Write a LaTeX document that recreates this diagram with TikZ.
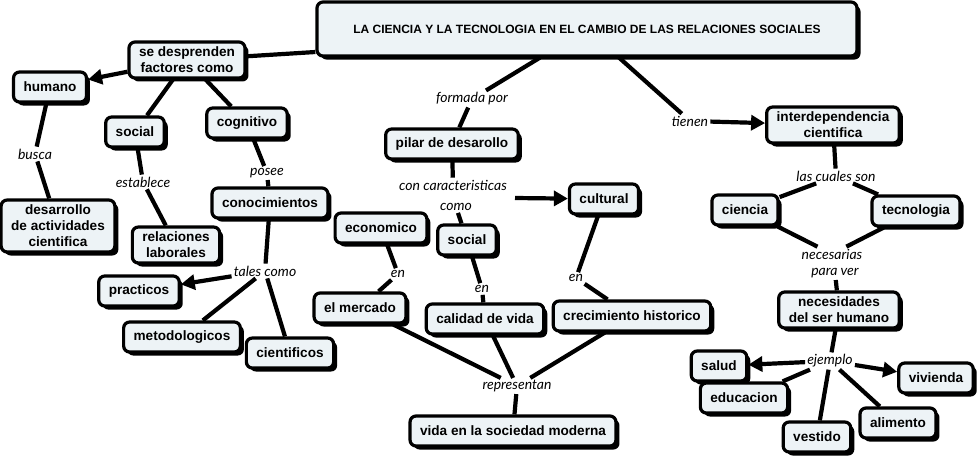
\documentclass[tikz,border=0pt]{standalone}
\usepackage{fontspec}
\setmainfont{Liberation Sans}[BoldFont={Liberation Sans Bold}]
\newfontfamily\boldfont{Liberation Sans Bold}
\newfontfamily\linkfont{Lato Italic}
\usetikzlibrary{shadows,arrows.meta}
\definecolor{boxfill}{HTML}{EDF3F6}
\tikzset{
  concept/.style={draw=black, line width=3.2pt, rounded corners=6pt, fill=boxfill,
    font=\boldfont\fontsize{13.6}{16}\selectfont, align=center,
    inner xsep=10pt, inner ysep=5pt, minimum height=30pt,
    drop shadow={shadow xshift=3.5pt, shadow yshift=-3.5pt, fill=black, opacity=1}},
  linkp/.style={font=\linkfont\fontsize{14}{16}\selectfont, inner sep=2pt, align=center},
  con/.style={line width=4.2pt},
  arr/.style={line width=4.2pt, -{Triangle[length=14pt,width=15pt]}}
}
\begin{document}
\begin{tikzpicture}[x=1pt,y=-1pt]
\useasboundingbox (0,0) rectangle (980,459);
% concepts
\node[concept, font=\boldfont\fontsize{12}{14}\selectfont, minimum width=540pt, minimum height=54pt] (title) at (587,29) {LA CIENCIA Y LA TECNOLOGIA EN EL CAMBIO DE LAS RELACIONES SOCIALES};
\node[concept] (sed) at (187,60) {se desprenden\\factores como};
\node[concept] (hum) at (50,87) {humano};
\node[concept] (soc1) at (135,132) {social};
\node[concept] (cog) at (247,123) {cognitivo};
\node[concept] (des) at (58,226) {desarrollo\\de actividades\\cientifica};
\node[concept] (rel) at (176,245) {relaciones\\laborales};
\node[concept] (con) at (270,203) {conocimientos};
\node[concept] (pra) at (139,291) {practicos};
\node[concept] (met) at (182,337) {metodologicos};
\node[concept] (cie) at (290,353) {cientificos};
\node[concept] (pil) at (452,144) {pilar de desarollo};
\node[concept] (cul) at (604,199) {cultural};
\node[concept] (eco) at (381,228) {economico};
\node[concept] (soc2) at (467,240) {social};
\node[concept] (mer) at (360,308) {el mercado};
\node[concept] (cal) at (485,319) {calidad de vida};
\node[concept] (cre) at (632,316) {crecimiento historico};
\node[concept] (vid) at (513,431) {vida en la sociedad moderna};
\node[concept] (int) at (833,125) {interdependencia\\cientifica};
\node[concept] (cien) at (745,210) {ciencia};
\node[concept] (tec) at (916,211) {tecnologia};
\node[concept] (nec) at (839,310) {necesidades\\del ser humano};
\node[concept] (sal) at (719,366) {salud};
\node[concept] (edu) at (744,398) {educacion};
\node[concept] (viv) at (936,378) {vivienda};
\node[concept] (ali) at (898,423) {alimento};
\node[concept] (ves) at (817,437) {vestido};
% linking phrases
\node[linkp] (busca) at (35,154) {busca};
\node[linkp] (estab) at (143,182) {establece};
\node[linkp] (posee) at (267,173) {posee};
\node[linkp] (tales) at (265,271) {tales como};
\node[linkp] (form) at (472,99) {formada por};
\node[linkp, text depth=0pt] (concar) at (453,185) {con caracteristicas};
\node[linkp] (como) at (456,207) {como};
\coordinate (carr) at (515,198);
\node[linkp] (en1) at (398,274) {en};
\node[linkp] (en2) at (482,289) {en};
\node[linkp] (en3) at (576,278) {en};
\node[linkp] (rep) at (517,386) {representan};
\node[linkp] (tien) at (690,121) {tienen};
\node[linkp] (cual) at (836,176) {las cuales son};
\node[linkp] (neces) at (832,254) {necesarias};
\node[linkp] (para) at (835,273) {para ver};
\node[linkp] (ejem) at (830,361) {ejemplo};
% connectors
\draw[con] (title.west |- sed.east) ++(0,-8) coordinate (tw) -- (sed);
\draw[arr] (sed) -- (hum);
\draw[con] (sed) -- (soc1);
\draw[con] (sed) -- (cog);
\draw[con] (hum) -- (busca);
\draw[con] (busca) -- (des);
\draw[con] (soc1) -- (estab);
\draw[con] (estab) -- (rel);
\draw[con] (cog) -- (posee);
\draw[con] (posee) -- (con);
\draw[con] (con) -- (tales);
\draw[arr] (tales) -- (pra);
\draw[con] (tales) -- (met);
\draw[con] (tales) -- (cie);
\draw[con] (title) -- (form);
\draw[con] (form) -- (pil);
\draw[con] (pil) -- (concar);
\draw[arr] (carr) -- (cul);
\draw[con] (como) -- (soc2);
\draw[con] (eco) -- (en1);
\draw[con] (en1) -- (mer);
\draw[con] (soc2) -- (en2);
\draw[con] (en2) -- (cal);
\draw[con] (cul) -- (en3);
\draw[con] (en3) -- (cre);
\draw[con] (mer) -- (rep);
\draw[con] (cal) -- (rep);
\draw[con] (cre) -- (rep);
\draw[con] (rep) -- (vid);
\draw[con] (title) -- (tien);
\draw[arr] (tien) -- (int);
\draw[con] (int) -- (cual);
\draw[con] (cual) -- (cien);
\draw[con] (cual) -- (tec);
\draw[con] (cien) -- (neces);
\draw[con] (tec) -- (neces);
\draw[con] (para) -- (nec);
\draw[con] (nec) -- (ejem);
\draw[arr] (ejem) -- (sal);
\draw[con] (ejem) -- (edu);
\draw[con] (ejem) -- (ves);
\draw[con] (ejem) -- (ali);
\draw[arr] (ejem) -- (viv);
\end{tikzpicture}
\end{document}
